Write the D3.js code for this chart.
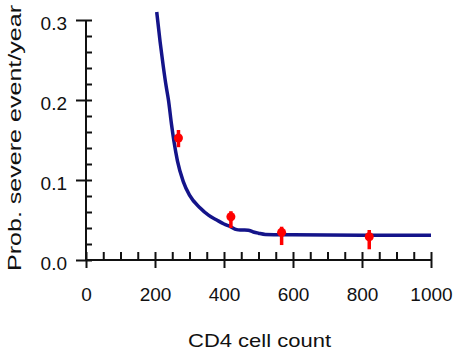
<!DOCTYPE html>
<html>
<head>
<meta charset="utf-8">
<script src="https://cdn.jsdelivr.net/npm/d3@7"></script>
<style>
  html, body { margin: 0; padding: 0; background: #fff; }
  svg text { font-family: "Liberation Sans", Arial, Helvetica, sans-serif; fill: #111; }
</style>
</head>
<body>
<svg id="chart" width="458" height="351"></svg>
<script>
// ---- data ----
const curveCD4   = [205, 215, 224, 232, 239, 248, 255, 265, 282, 300, 331, 355, 379, 400, 417, 437, 450, 470, 485, 500, 520, 600, 800, 1000];
const curveProb  = [0.310, 0.272, 0.242, 0.218, 0.200, 0.169, 0.148, 0.124, 0.098, 0.081, 0.065, 0.056, 0.050, 0.045, 0.042, 0.038, 0.0375, 0.0372, 0.035, 0.0335, 0.032, 0.0315, 0.031, 0.031];
const pointCD4   = [268, 420, 567, 821];
const pointProb  = [0.1525, 0.054, 0.0346, 0.029];
const pointLow   = [0.141, 0.040, 0.0187, 0.0134];
const pointHigh  = [0.1625, 0.061, 0.0416, 0.0375];
const xMajorTicks = [0, 200, 400, 600, 800, 1000];
const xMinorTicks = [50, 100, 150, 250, 300, 350, 450, 500, 550, 650, 700, 750, 850, 900, 950];
const yMajorTicks = [0.0, 0.1, 0.2, 0.3];
const yMinorTicks = [0.02, 0.04, 0.06, 0.08, 0.12, 0.14, 0.16, 0.18, 0.22, 0.24, 0.26, 0.28];
const xTitle = "CD4 cell count";
const yTitle = "Prob. severe event/year";

// ---- chart ----
const svg = d3.select("#chart");
const x = d3.scaleLinear().domain([0, 1000]).range([86, 431]);
const y = d3.scaleLinear().domain([0, 0.3]).range([260, 20]);
const axisColor = "#111";

function styleAxis(g) {
  g.select(".domain").remove();
  g.selectAll(".tick line").attr("stroke", axisColor).attr("stroke-width", 2);
}

// X axis
const xg = svg.append("g").attr("transform", `translate(0,${y(0)})`);
xg.append("g").call(d3.axisBottom(x).tickValues(xMajorTicks).tickSize(8).tickFormat(d3.format("d")))
  .call(styleAxis)
  .call(g => g.selectAll("text").attr("y", 41).attr("dy", 0).style("font-size", "19px").attr("fill", "#111"));
xg.append("g").call(d3.axisTop(x).tickValues(xMajorTicks).tickSize(8).tickFormat(""))
  .call(styleAxis);
xg.append("g").call(d3.axisTop(x).tickValues(xMinorTicks).tickSize(8).tickFormat(""))
  .call(styleAxis);
xg.append("line").attr("x1", x(0)).attr("x2", x(1000)).attr("y1", 0).attr("y2", 0)
  .attr("stroke", axisColor).attr("stroke-width", 2);

// Y axis
const yg = svg.append("g").attr("transform", `translate(${x(0)},0)`);
yg.append("g").call(d3.axisLeft(y).tickValues(yMajorTicks).tickSize(10).tickFormat(d3.format(".1f")))
  .call(styleAxis)
  .call(g => g.selectAll("text").attr("x", -19).attr("dy", 0).attr("y", 9.5).style("font-size", "19px").attr("fill", "#111"));
yg.append("g").call(d3.axisRight(y).tickValues(yMajorTicks).tickSize(6).tickFormat(""))
  .call(styleAxis);
yg.append("g").call(d3.axisRight(y).tickValues(yMinorTicks).tickSize(6).tickFormat(""))
  .call(styleAxis);
yg.append("line").attr("x1", 0).attr("x2", 0).attr("y1", y(0.3)).attr("y2", y(0))
  .attr("stroke", axisColor).attr("stroke-width", 2);

// Titles
svg.append("text").attr("x", (x(0) + x(1000)) / 2 + 1).attr("y", 347)
  .attr("text-anchor", "middle").style("font-size", "19px")
  .attr("textLength", 143).attr("lengthAdjust", "spacingAndGlyphs").text(xTitle);
svg.append("text").attr("transform", `translate(21,138) rotate(-90)`)
  .attr("text-anchor", "middle").style("font-size", "19px")
  .attr("textLength", 266).attr("lengthAdjust", "spacingAndGlyphs").text(yTitle);

// Fitted curve
const curveData = curveCD4.map((c, i) => [c, curveProb[i]]);
svg.append("path").datum(curveData)
  .attr("fill", "none").attr("stroke", "#14148a").attr("stroke-width", 3.5)
  .attr("d", d3.line().x(d => x(d[0])).y(d => y(d[1])).curve(d3.curveMonotoneX));

// Observed points with error bars
const pts = pointCD4.map((c, i) => ({ c, p: pointProb[i], lo: pointLow[i], hi: pointHigh[i] }));
const pg = svg.append("g");
pg.selectAll("line.err").data(pts).join("line").attr("class", "err")
  .attr("x1", d => x(d.c)).attr("x2", d => x(d.c))
  .attr("y1", d => y(d.lo)).attr("y2", d => y(d.hi))
  .attr("stroke", "#ff0000").attr("stroke-width", 3.5);
pg.selectAll("circle").data(pts).join("circle")
  .attr("cx", d => x(d.c)).attr("cy", d => y(d.p)).attr("r", 4.5)
  .attr("fill", "#ff0000");
</script>
</body>
</html>
